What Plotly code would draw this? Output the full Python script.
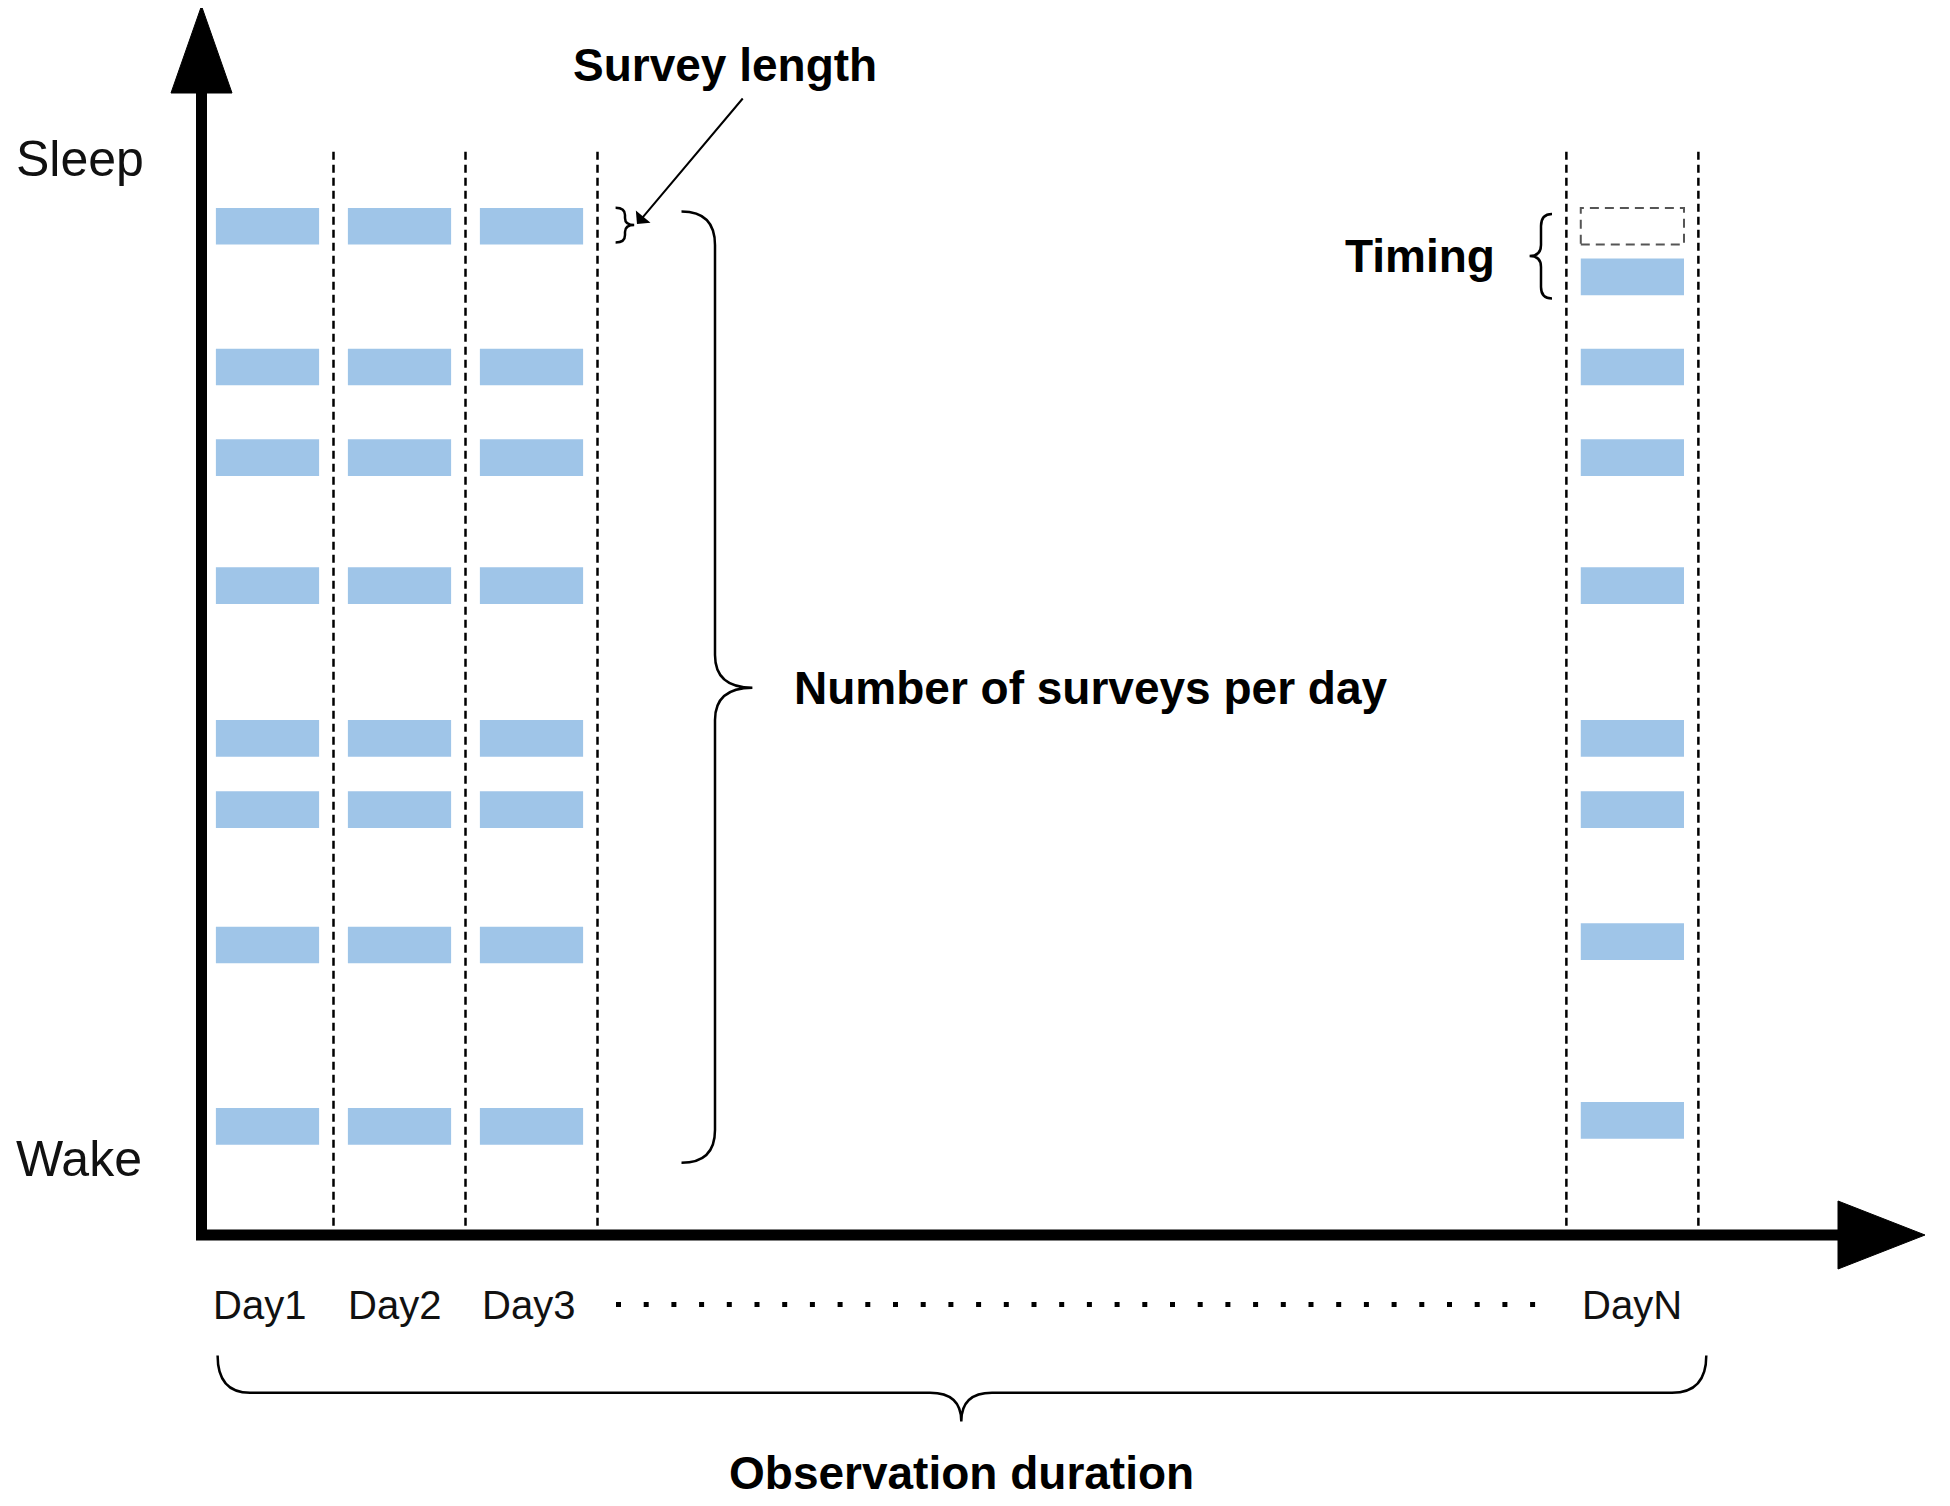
import plotly.graph_objects as go

# ---------------- data ----------------
days = ["Day1", "Day2", "Day3", "DayN"]
day_slot = [0, 1, 2, 10.34]          # column index along the observation axis
# survey times (hour of day, bar centre)
survey_times_regular = [21.99, 19.88, 18.52, 16.60, 14.31, 13.24, 11.21, 8.49]
survey_times_dayN = [21.23, 19.88, 18.52, 16.60, 14.31, 13.24, 11.26, 8.58]
scheduled_dayN_first = 21.99         # originally scheduled (dashed box)
survey_length_h = 0.55
wake_h, sleep_h = 8, 23
y_labels = ["Wake", "Sleep"]
annot_texts = ["Survey length", "Number of surveys per day", "Timing", "Observation duration"]

# ---------------- layout geometry (page pixel -> data helpers) ----------------
PAGE_OFF = 8                      # default body margin of the html page
W, H = 1950 - 2 * PAGE_OFF, 1506 - 2 * PAGE_OFF
X0, PX_DAY = 201.5, 132.0
Y_WAKE, PX_HR = 1159.0, 66.67
LABEL_SHIFT = [-0.06, -0.04, -0.025, 0.0]


def dx(px):
    return (px - X0) / PX_DAY


def dy(py):
    return wake_h + (Y_WAKE - py) / PX_HR


BAR_W = 0.782
BLUE = "#9fc5e8"
FONT = "Liberation Sans, Arial, sans-serif"

fig = go.Figure()

# survey bars
for d, s in zip(days, day_slot):
    times = survey_times_dayN if d == "DayN" else survey_times_regular
    fig.add_trace(go.Bar(
        orientation="h", y=times, x=[BAR_W] * len(times),
        base=[s + 0.5 - BAR_W / 2] * len(times), width=survey_length_h,
        marker=dict(color=BLUE, line=dict(width=0)), showlegend=False,
        hoverinfo="skip"))

shapes = []
# dashed day separators
y_top_sep = dy(151.7)
y_axis = dy(1235)
sep_x = []
for d, s in zip(days, day_slot):
    if d == "DayN":
        sep_x.append(s)
    sep_x.append(s + 1)
for xv in sep_x:
    shapes.append(dict(type="line", xref="x", yref="y", x0=xv, x1=xv,
                       y0=y_top_sep, y1=y_axis,
                       line=dict(color="black", width=2.5, dash="8px,5px")))

# dashed box for originally scheduled time
sN = day_slot[days.index("DayN")]
shapes.append(dict(type="rect", xref="x", yref="y",
                   x0=sN + 0.5 - BAR_W / 2, x1=sN + 0.5 + BAR_W / 2,
                   y0=scheduled_dayN_first - survey_length_h / 2,
                   y1=scheduled_dayN_first + survey_length_h / 2,
                   line=dict(color="#555555", width=2, dash="9px,6px")))

# axes
shapes.append(dict(type="line", xref="x", yref="y", x0=dx(X0), x1=dx(X0),
                   y0=dy(1240), y1=dy(88), line=dict(color="black", width=11)))
shapes.append(dict(type="line", xref="x", yref="y", x0=dx(196), x1=dx(1845),
                   y0=y_axis, y1=y_axis, line=dict(color="black", width=11)))


def path(points_cmds):
    out = []
    for cmd, pts in points_cmds:
        coords = " ".join(f"{dx(px):.5f},{dy(py):.5f}" for px, py in pts)
        out.append(f"{cmd} {coords}")
    return " ".join(out)


# arrowheads
shapes.append(dict(type="path", xref="x", yref="y",
                   path=path([("M", [(171, 93)]), ("L", [(X0, 6)]), ("L", [(232, 93)])]) + " Z",
                   fillcolor="black", line=dict(color="black", width=1)))
shapes.append(dict(type="path", xref="x", yref="y",
                   path=path([("M", [(1838, 1201)]), ("L", [(1925, 1235)]), ("L", [(1838, 1269)])]) + " Z",
                   fillcolor="black", line=dict(color="black", width=1)))

brace_line = dict(color="black", width=2.5)
# big brace (number of surveys)
shapes.append(dict(type="path", xref="x", yref="y", line=brace_line, path=path([
    ("M", [(681.5, 211.4)]), ("Q", [(715, 211.4), (715, 245)]), ("L", [(715, 655)]),
    ("Q", [(715, 687.7), (752.4, 687.7)]), ("Q", [(715, 687.7), (715, 720)]),
    ("L", [(715, 1130)]), ("Q", [(715, 1162.8), (681.5, 1162.8)])])))
# small brace (survey length)
shapes.append(dict(type="path", xref="x", yref="y", line=brace_line, path=path([
    ("M", [(615.6, 207.7)]), ("Q", [(625, 207.7), (625, 215)]), ("L", [(625, 218)]),
    ("Q", [(625, 225), (634.2, 225)]), ("Q", [(625, 225), (625, 232)]),
    ("L", [(625, 235)]), ("Q", [(625, 242.5), (615.6, 242.5)])])))
# timing brace
shapes.append(dict(type="path", xref="x", yref="y", line=brace_line, path=path([
    ("M", [(1552, 213.9)]), ("Q", [(1541, 213.9), (1541, 226)]), ("L", [(1541, 245)]),
    ("Q", [(1541, 256), (1529.6, 256)]), ("Q", [(1541, 256), (1541, 267)]),
    ("L", [(1541, 287)]), ("Q", [(1541, 298.5), (1552, 298.5)])])))
# bottom brace (observation duration)
shapes.append(dict(type="path", xref="x", yref="y", line=brace_line, path=path([
    ("M", [(217.6, 1355.5)]), ("Q", [(217.6, 1392.8), (250, 1392.8)]), ("L", [(930, 1392.8)]),
    ("Q", [(961.3, 1392.8), (961.3, 1421.4)]), ("Q", [(961.3, 1392.8), (992, 1392.8)]),
    ("L", [(1672, 1392.8)]), ("Q", [(1706.3, 1392.8), (1706.3, 1355.5)])])))
# ellipsis dots between Day3 and DayN
shapes.append(dict(type="line", xref="x", yref="y", x0=dx(616), x1=dx(1537),
                   y0=dy(1304.5), y1=dy(1304.5),
                   line=dict(color="black", width=5, dash="5px,22.7px")))

annotations = []
# Wake / Sleep labels
for lab, hv in zip(y_labels, [wake_h, sleep_h]):
    annotations.append(dict(text=lab, x=dx(14), y=hv, xref="x", yref="y",
                            xanchor="left", yanchor="middle", showarrow=False,
                            font=dict(family=FONT, size=50, color="#111")))
# Day labels
for d, s, sh in zip(days, day_slot, LABEL_SHIFT):
    annotations.append(dict(text=d, x=s + 0.5 + sh, y=dy(1304.5), xref="x", yref="y",
                            xanchor="center", yanchor="middle", showarrow=False,
                            font=dict(family=FONT, size=40, color="#111")))
bold = dict(family=FONT, size=46, color="black")
annotations.append(dict(text="<b>%s</b>" % annot_texts[0], x=dx(725), y=dy(64.7),
                        xref="x", yref="y", xanchor="center", yanchor="middle",
                        showarrow=False, font=bold))
annotations.append(dict(text="<b>%s</b>" % annot_texts[1], x=dx(792), y=dy(688),
                        xref="x", yref="y", xanchor="left", yanchor="middle",
                        showarrow=False, font=bold))
annotations.append(dict(text="<b>%s</b>" % annot_texts[2], x=dx(1497), y=dy(256),
                        xref="x", yref="y", xanchor="right", yanchor="middle",
                        showarrow=False, font=bold))
annotations.append(dict(text="<b>%s</b>" % annot_texts[3], x=dx(961), y=dy(1473),
                        xref="x", yref="y", xanchor="center", yanchor="middle",
                        showarrow=False, font=bold))
# survey length arrow
annotations.append(dict(text="", x=dx(637), y=dy(224), ax=dx(744), ay=dy(97),
                        xref="x", yref="y", axref="x", ayref="y", showarrow=True,
                        arrowhead=1, arrowsize=1.6, arrowwidth=2, arrowcolor="black",
                        standoff=0))

fig.update_layout(
    width=W, height=H, margin=dict(l=0, r=0, t=0, b=0),
    paper_bgcolor="white", plot_bgcolor="white", barmode="overlay",
    xaxis=dict(range=[dx(PAGE_OFF), dx(PAGE_OFF + W)], visible=False, fixedrange=True),
    yaxis=dict(range=[dy(PAGE_OFF + H), dy(PAGE_OFF)], visible=False, fixedrange=True),
    shapes=shapes, annotations=annotations, showlegend=False,
)

fig.write_html("out.html", config={"displayModeBar": False})
